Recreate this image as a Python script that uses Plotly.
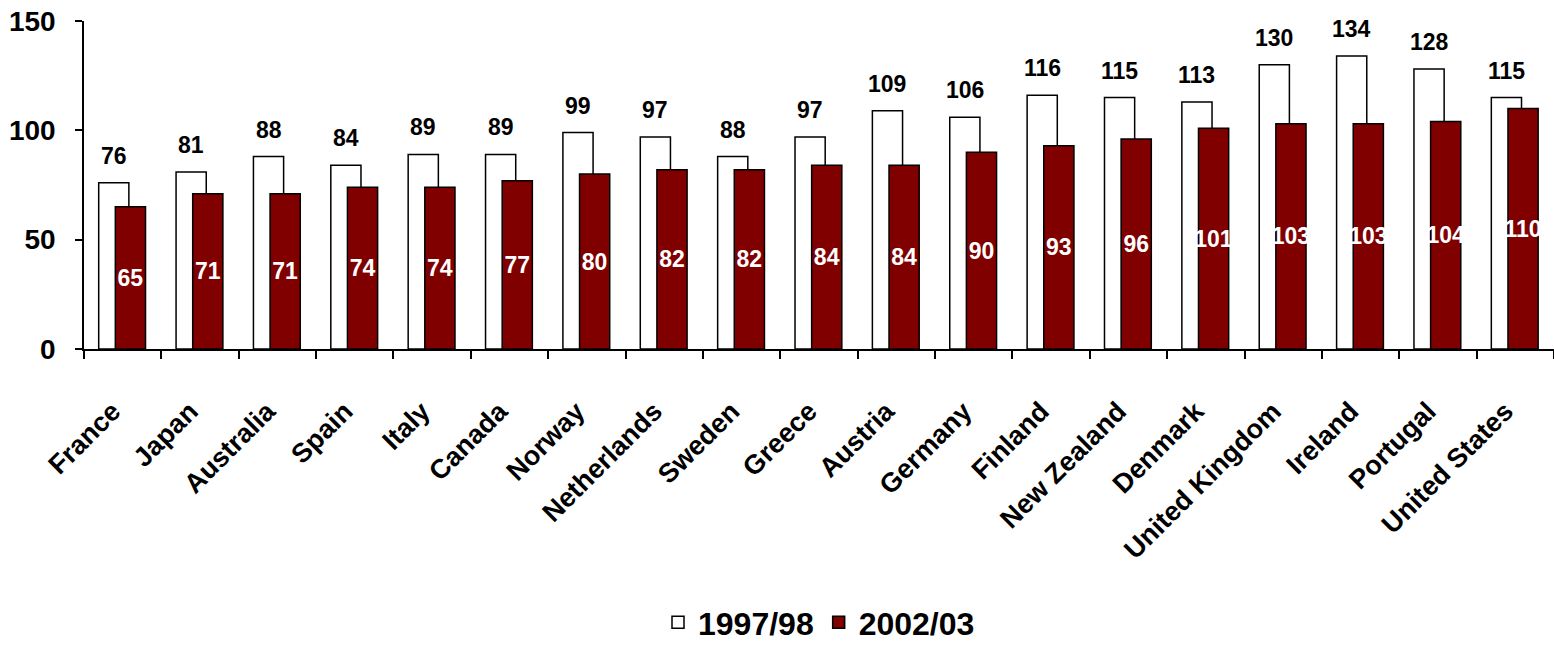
import plotly.graph_objects as go

countries = ["France", "Japan", "Australia", "Spain", "Italy", "Canada", "Norway",
             "Netherlands", "Sweden", "Greece", "Austria", "Germany", "Finland",
             "New Zealand", "Denmark", "United Kingdom", "Ireland", "Portugal",
             "United States"]
v_1997 = [76, 81, 88, 84, 89, 89, 99, 97, 88, 97, 109, 106, 116, 115, 113, 130, 134, 128, 115]
v_2002 = [65, 71, 71, 74, 74, 77, 80, 82, 82, 84, 84, 90, 93, 96, 101, 103, 103, 104, 110]
series_names = ["1997/98", "2002/03"]
y_ticks = [0, 50, 100, 150]

FONT = "Liberation Sans, Arial, sans-serif"
W_OFF, W_W = -0.31, 0.39
R_OFF, R_W = -0.095, 0.39

fig = go.Figure()
fig.add_trace(go.Bar(
    x=countries, y=v_1997, name=series_names[0],
    offset=W_OFF, width=W_W,
    marker=dict(color="white", line=dict(color="black", width=1.5)),
    hoverinfo="x+y",
))
fig.add_trace(go.Bar(
    x=countries, y=v_2002, name=series_names[1],
    offset=R_OFF, width=R_W,
    marker=dict(color="#800000", line=dict(color="black", width=1.5)),
    text=[str(v) for v in v_2002], textposition="inside",
    insidetextanchor="middle", textangle=0, constraintext="none",
    textfont=dict(family=FONT, size=23, color="white", weight=700),
    hoverinfo="x+y",
))

# labels above the 1997/98 bars
cat_px = 1470 / len(countries)
for c, v in zip(countries, v_1997):
    fig.add_annotation(
        x=c, y=v, xref="x", yref="y", text=str(v), showarrow=False,
        xanchor="center", yanchor="bottom",
        xshift=(W_OFF + W_W / 2) * cat_px, yshift=12,
        font=dict(family=FONT, size=23, color="black", weight=700),
    )

fig.update_layout(
    width=1554, height=650,
    margin=dict(l=84, r=0, t=21, b=301, autoexpand=False),
    barmode="overlay",
    plot_bgcolor="white", paper_bgcolor="white",
    font=dict(family=FONT, color="black"),
    showlegend=True,
    legend=dict(orientation="h", x=0.5, xanchor="center",
                yref="container", y=0.0, yanchor="bottom",
                font=dict(family=FONT, size=32, color="black", weight=700),
                traceorder="normal"),
    xaxis=dict(
        type="category", showline=True, linecolor="black", linewidth=1.5,
        ticks="outside", tickson="boundaries", ticklen=8, tickcolor="black", tickwidth=1.5,
        tickangle=-45, tickfont=dict(family=FONT, size=27, color="black", weight=700),
        showgrid=False, ticklabelstandoff=34, ticklabelshift=-10,
    ),
    yaxis=dict(
        range=[0, 150], tickvals=y_ticks, showline=True, linecolor="black", linewidth=1.5,
        ticks="outside", ticklen=7, tickcolor="black", tickwidth=1.5,
        tickfont=dict(family=FONT, size=28, color="black", weight=700),
        showgrid=False, zeroline=False, ticklabelstandoff=14,
    ),
)

fig.write_html("out.html")
